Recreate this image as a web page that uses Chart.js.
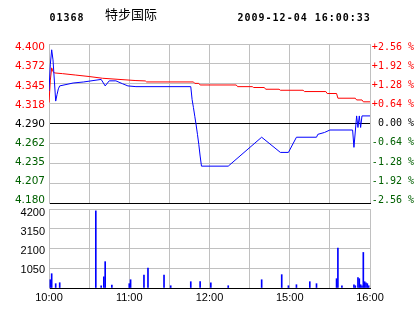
<!DOCTYPE html>
<html>
<head>
<meta charset="utf-8">
<script src="https://cdn.jsdelivr.net/npm/chart.js@4.4.0/dist/chart.umd.min.js"></script>
<style>
  html, body { margin: 0; padding: 0; background: #fff; }
  canvas { display: block; }
</style>
</head>
<body>
<canvas id="price" width="414" height="204"></canvas>
<canvas id="volume" width="414" height="110"></canvas>
<script>
const stockCode = "01368";
const stockName = "特步国际";
const quoteTime = "2009-12-04 16:00:33";

// minutes since 10:00, lunch break squeezed out (12:30 -> 14:30)
const gridMinutes = [0, 30, 60, 90, 120, 150, 180, 210, 240];
const timeLabels = ["10:00", "11:00", "12:00", "15:00", "16:00"];

const priceTicks = [4.18, 4.2075, 4.235, 4.2625, 4.29, 4.3175, 4.345, 4.3725, 4.4];
const priceTickLabels = ["4.180", "4.207", "4.235", "4.262", "4.290", "4.318", "4.345", "4.372", "4.400"];
const pctTickLabels = ["-2.56 %", "-1.92 %", "-1.28 %", "-0.64 %", "0.00 %", "+0.64 %", "+1.28 %", "+1.92 %", "+2.56 %"];

const volTicks = [0, 1050, 2100, 3150, 4200];
const volTickLabels = ["", "1050", "2100", "3150", "4200"];

const priceMinutes = [0, 1, 2, 3, 5, 6, 7, 8, 18, 26, 39, 42, 45, 50, 55, 59, 65, 106, 107, 108, 109, 110, 111, 112, 113, 114, 134, 159, 173, 179, 185, 200, 201, 206, 210, 227, 228, 230, 231, 232, 233, 234, 240];
const priceValues = [4.335, 4.372, 4.392, 4.378, 4.321, 4.330, 4.338, 4.342, 4.346, 4.3475, 4.351, 4.342, 4.349, 4.349, 4.345, 4.342, 4.341, 4.341, 4.323, 4.312, 4.300, 4.288, 4.275, 4.261, 4.245, 4.231, 4.231, 4.271, 4.250, 4.250, 4.271, 4.271, 4.275, 4.2776, 4.281, 4.281, 4.257, 4.3005, 4.2845, 4.3005, 4.2845, 4.3005, 4.3005];

const avgMinutes = [0, 1, 2, 3, 4, 10, 20, 30, 40, 65, 72, 73, 108, 109, 112, 113, 140, 141, 152, 153, 161, 162, 172, 173, 190, 191, 207, 208, 215, 216, 229, 230, 234, 235, 240];
const avgValues = [4.319, 4.350, 4.367, 4.362, 4.360, 4.359, 4.357, 4.355, 4.3526, 4.3494, 4.3489, 4.3475, 4.3475, 4.3455, 4.3455, 4.3433, 4.3433, 4.341, 4.341, 4.3398, 4.3398, 4.3374, 4.3374, 4.336, 4.336, 4.3342, 4.3342, 4.3315, 4.3315, 4.325, 4.325, 4.3226, 4.3226, 4.320, 4.320];

const volMinutes = [1, 2, 5, 8, 35, 39, 41, 42, 47, 60, 61, 71, 74, 86, 91, 106, 113, 121, 134, 159, 174, 179, 185, 195, 200, 215, 216, 219, 228, 229, 231, 232, 233, 234, 235, 236, 237, 238, 239];
const volValues = [440, 760, 230, 280, 4100, 120, 590, 1400, 160, 230, 440, 690, 1060, 690, 120, 335, 335, 280, 120, 440, 710, 120, 175, 335, 230, 495, 2120, 120, 175, 120, 550, 495, 175, 120, 1890, 335, 280, 230, 120];

const gridColor = "#c0c0c0";
const upColor = "#ff0000";
const downColor = "#006000";

function tickColor(index) {
  if (index > 4) return upColor;
  if (index < 4) return downColor;
  return "#000000";
}

function setTicks(values) {
  return (axis) => {
    axis.ticks = values.map((v) => ({ value: v }));
  };
}

// fixed axis width, no extra room for label overflow
function fixWidth(w) {
  return (s) => {
    s.width = w;
    s.paddingTop = 0;
    s.paddingBottom = 0;
  };
}

// vertical time grid, painted behind everything from the x scale
const timeGridPlugin = {
  id: "timeGrid",
  afterDraw(chart) {
    const { ctx, chartArea, scales } = chart;
    ctx.save();
    ctx.globalCompositeOperation = "destination-over";
    ctx.globalAlpha = 1;
    ctx.fillStyle = gridColor;
    gridMinutes.forEach((m) => {
      const x = Math.round(scales.x.getPixelForValue(m) - 0.5);
      ctx.fillRect(x, chartArea.top, 1, chartArea.bottom - chartArea.top);
    });
    ctx.restore();
  },
};

const headerPlugin = {
  id: "header",
  afterDraw(chart) {
    const ctx = chart.ctx;
    ctx.save();
    ctx.fillStyle = "#000";
    ctx.textBaseline = "alphabetic";
    ctx.font = 'bold 10px "DejaVu Sans Mono"';
    ctx.letterSpacing = "1px";
    ctx.fillText(stockCode, 49.5, 20.7);
    ctx.fillText(quoteTime, 237.5, 20.7);
    ctx.letterSpacing = "0px";
    ctx.font = '13px "Noto Sans CJK SC"';
    ctx.fillText(stockName, 105, 19.3);
    ctx.restore();
  },
};

function drawPriceChart() {
  new Chart(document.getElementById("price"), {
    type: "line",
    data: {
      datasets: [
        {
          data: priceMinutes.map((m, i) => ({ x: m, y: priceValues[i] })),
          borderColor: "#0000ff",
          borderWidth: 1,
          pointRadius: 0,
          tension: 0,
          yAxisID: "y",
        },
        {
          data: avgMinutes.map((m, i) => ({ x: m, y: avgValues[i] })),
          borderColor: "#ff0000",
          borderWidth: 1,
          pointRadius: 0,
          tension: 0,
          yAxisID: "y",
        },
      ],
    },
    options: {
      responsive: false,
      animation: false,
      layout: { padding: { top: 44, bottom: 1, left: 0, right: 0 } },
      plugins: { legend: { display: false } },
      scales: {
        x: {
          type: "linear",
          min: 0,
          max: 240,
          afterBuildTicks: setTicks(gridMinutes),
          ticks: { display: false },
          grid: { color: gridColor, drawTicks: false },
          border: { color: "#000" },
          afterFit: (s) => { s.height = 0; },
        },
        y: {
          type: "linear",
          position: "left",
          weight: 0,
          min: 4.18,
          max: 4.4,
          afterBuildTicks: setTicks(priceTicks),
          ticks: { display: false },
          grid: {
            color: (ctx) => (ctx.index === 0 || ctx.index === 4 ? "#000" : gridColor),
            drawTicks: false,
          },
          border: { color: gridColor },
          afterFit: fixWidth(0),
        },
        // label axes, slightly inset like the original
        yl: {
          type: "linear",
          position: "left",
          weight: 1,
          min: 4.175666,
          max: 4.405344,
          afterBuildTicks: setTicks(priceTicks),
          ticks: {
            callback: (v, i) => priceTickLabels[i],
            color: (ctx) => tickColor(ctx.index),
            font: { family: "DejaVu Sans", size: 10.5 },
            padding: 4,
          },
          grid: { display: false, drawTicks: false },
          border: { display: false },
          afterFit: fixWidth(49),
        },
        yr: {
          type: "linear",
          position: "right",
          min: 4.175666,
          max: 4.405344,
          afterBuildTicks: setTicks(priceTicks),
          ticks: {
            callback: (v, i) => pctTickLabels[i],
            color: (ctx) => tickColor(ctx.index),
            font: { family: "DejaVu Sans Mono", size: 10 },
            crossAlign: "far",
          },
          grid: { display: false, drawTicks: false },
          border: { display: false },
          afterFit: fixWidth(44),
        },
      },
    },
    plugins: [timeGridPlugin, headerPlugin],
  });
}

function drawVolumeChart() {
  new Chart(document.getElementById("volume"), {
    type: "bar",
    data: {
      datasets: [
        {
          data: volMinutes.map((m, i) => ({ x: m, y: volValues[i] })),
          backgroundColor: "#0000ff",
          barThickness: 1,
        },
      ],
    },
    options: {
      responsive: false,
      animation: false,
      layout: { padding: { top: 5, bottom: 0, left: 0, right: 44 } },
      plugins: { legend: { display: false } },
      scales: {
        x: {
          type: "linear",
          min: 0,
          max: 240,
          offset: false,
          afterBuildTicks: setTicks(gridMinutes),
          ticks: {
            callback: (v, i) => (i % 2 === 0 ? timeLabels[i / 2] : ""),
            color: "#000",
            font: { family: "Liberation Sans", size: 11 },
            padding: 3,
            autoSkip: false,
            maxRotation: 0,
          },
          grid: { color: gridColor, drawTicks: false, offset: false },
          border: { color: "#000" },
          afterFit: (s) => { s.height = 26; },
        },
        y: {
          type: "linear",
          position: "left",
          weight: 0,
          min: 0,
          max: 4200,
          afterBuildTicks: setTicks(volTicks),
          ticks: { display: false },
          grid: { color: gridColor, drawTicks: false },
          border: { color: gridColor },
          afterFit: fixWidth(0),
        },
        yl: {
          type: "linear",
          position: "left",
          weight: 1,
          min: 77,
          max: 4419.9,
          afterBuildTicks: setTicks(volTicks.slice(1)),
          ticks: {
            callback: (v, i) => volTickLabels[i + 1],
            color: "#000",
            font: { family: "Liberation Sans", size: 11 },
            padding: 4,
          },
          grid: { display: false, drawTicks: false },
          border: { display: false },
          afterFit: fixWidth(49),
        },
      },
    },
    plugins: [timeGridPlugin],
  });
}

drawPriceChart();
drawVolumeChart();
</script>
</body>
</html>
